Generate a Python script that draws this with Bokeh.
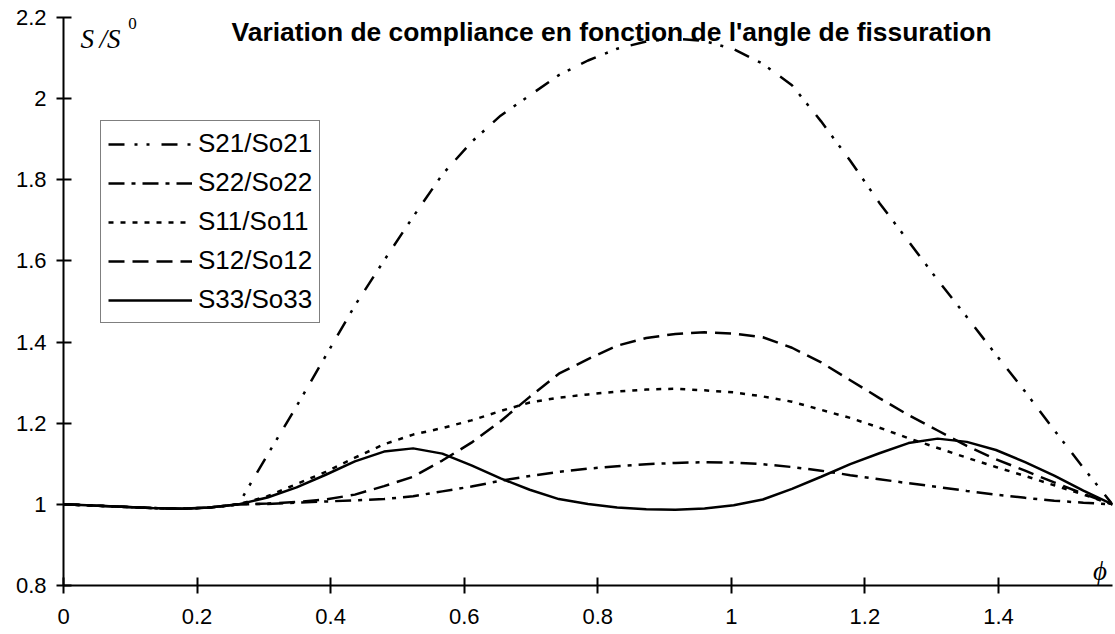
import math
from bokeh.plotting import figure
from bokeh.models import Range1d, FixedTicker, CustomJSTickFormatter, Label, Legend, LegendItem
from bokeh.embed import file_html
from bokeh.resources import INLINE

# crack angle, degrees (read every 2.5 degrees, 0..90)
angle_deg = [0, 2.5, 5, 7.5, 10, 12.5, 15, 17.5, 20, 22.5, 25, 27.5, 30, 32.5, 35, 37.5,
             40, 42.5, 45, 47.5, 50, 52.5, 55, 57.5, 60, 62.5, 65, 67.5, 70, 72.5, 75,
             77.5, 80, 82.5, 85, 87.5, 90]

s21 = [1.000, 0.997, 0.994, 0.991, 0.989, 0.992, 1.000, 1.122, 1.242, 1.366, 1.490,
       1.601, 1.709, 1.813, 1.893, 1.958, 2.008, 2.058, 2.094, 2.123, 2.141, 2.148,
       2.142, 2.122, 2.086, 2.033, 1.944, 1.847, 1.743, 1.648, 1.553, 1.462, 1.369,
       1.278, 1.183, 1.090, 1.000]
s22 = [1.000, 0.997, 0.994, 0.991, 0.989, 0.992, 1.000, 1.001, 1.004, 1.007, 1.010,
       1.013, 1.020, 1.032, 1.044, 1.058, 1.070, 1.080, 1.088, 1.094, 1.099, 1.102,
       1.104, 1.103, 1.099, 1.092, 1.083, 1.072, 1.062, 1.052, 1.043, 1.033, 1.024,
       1.016, 1.009, 1.004, 1.000]
s11 = [1.000, 0.997, 0.994, 0.991, 0.989, 0.992, 1.000, 1.020, 1.050, 1.080, 1.115,
       1.148, 1.172, 1.188, 1.207, 1.230, 1.251, 1.263, 1.271, 1.278, 1.283, 1.285,
       1.281, 1.276, 1.266, 1.253, 1.233, 1.213, 1.189, 1.163, 1.139, 1.115, 1.092,
       1.070, 1.047, 1.024, 1.000]
s12 = [1.000, 0.997, 0.994, 0.991, 0.989, 0.992, 1.000, 1.002, 1.006, 1.012, 1.024,
       1.045, 1.068, 1.108, 1.152, 1.205, 1.265, 1.322, 1.358, 1.391, 1.410, 1.420,
       1.424, 1.421, 1.412, 1.386, 1.350, 1.306, 1.262, 1.220, 1.182, 1.144, 1.111,
       1.083, 1.054, 1.026, 1.000]
s33 = [1.000, 0.997, 0.994, 0.991, 0.989, 0.992, 1.000, 1.017, 1.042, 1.073, 1.106,
       1.130, 1.138, 1.125, 1.096, 1.064, 1.036, 1.013, 1.001, 0.992, 0.988, 0.987,
       0.990, 0.998, 1.012, 1.038, 1.068, 1.099, 1.126, 1.151, 1.162, 1.154, 1.134,
       1.104, 1.071, 1.034, 1.000]

series_labels = ["S21/So21", "S22/So22", "S11/So11", "S12/So12", "S33/So33"]
x_ticks = [0, 0.2, 0.4, 0.6, 0.8, 1.0, 1.2, 1.4]
y_ticks = [0.8, 1.0, 1.2, 1.4, 1.6, 1.8, 2.0, 2.2]

phi = [math.radians(a) for a in angle_deg]

p = figure(width=1114, height=634,
           x_range=Range1d(0, math.pi / 2), y_range=Range1d(0.8, 2.2),
           output_backend="svg", toolbar_location=None,
           min_border_left=63, min_border_right=2, min_border_top=17, min_border_bottom=49)
p.outline_line_color = None
p.xgrid.visible = False
p.ygrid.visible = False
p.background_fill_color = "white"
p.border_fill_color = "white"

fmt = CustomJSTickFormatter(code="return tick.toFixed(1).replace(/\\.0$/, '');")
p.xaxis.ticker = FixedTicker(ticks=x_ticks)
p.yaxis.ticker = FixedTicker(ticks=y_ticks)
for ax in (p.xaxis[0], p.yaxis[0]):
    ax.formatter = fmt
    ax.axis_line_width = 2
    ax.axis_line_color = "black"
    ax.major_tick_line_width = 2
    ax.major_tick_line_color = "black"
    ax.minor_tick_line_color = None
    ax.major_label_text_font = "Liberation Sans"
    ax.major_label_text_font_size = "22px"
    ax.major_label_text_color = "black"
p.yaxis.major_tick_in = 8
p.yaxis.major_tick_out = 7
p.yaxis.major_label_standoff = 10
p.xaxis.major_tick_in = 8
p.xaxis.major_tick_out = 8
p.xaxis.major_label_standoff = 15

lw = 2.5
r21 = p.line(phi, s21, line_color="black", line_width=lw, line_dash="16 10 3 9 3 12")
r22 = p.line(phi, s22, line_color="black", line_width=lw, line_dash="16 7 4 7")
r11 = p.line(phi, s11, line_color="black", line_width=lw, line_dash="5 7")
r12 = p.line(phi, s12, line_color="black", line_width=lw, line_dash="16 8")
r33 = p.line(phi, s33, line_color="black", line_width=lw)

legend = Legend(items=[LegendItem(label=lab, renderers=[r]) for lab, r in
                       zip(series_labels, [r21, r22, r11, r12, r33])],
                location=(37, 262), margin=0, padding=7, spacing=8,
                glyph_width=84, glyph_height=28, label_height=28, label_standoff=6,
                label_text_font="Liberation Sans", label_text_font_size="26px",
                label_text_color="black",
                border_line_color="black", border_line_width=1,
                background_fill_color="white", background_fill_alpha=1.0)
p.add_layout(legend)

p.add_layout(Label(x=0.2517, y=2.1654, text="Variation de compliance en fonction de l'angle de fissuration",
                   text_font="Liberation Sans", text_font_style="bold", text_font_size="26.4px",
                   text_align="left", text_baseline="alphabetic", text_color="black"))
p.add_layout(Label(x=0.0255, y=2.148, text="S\u2009/S", text_font="Liberation Serif",
                   text_font_style="italic", text_font_size="27px",
                   text_align="left", text_baseline="alphabetic", text_color="black"))
p.add_layout(Label(x=0.097, y=2.185, text="0", text_font="Liberation Serif",
                   text_font_size="17px",
                   text_align="left", text_baseline="alphabetic", text_color="black"))
p.add_layout(Label(x=1.5416, y=0.835, text="\u03d5", text_font="Liberation Serif",
                   text_font_style="italic", text_font_size="27px",
                   text_align="left", text_baseline="middle", text_color="black"))

open("out.html", "w").write(file_html(p, INLINE))
